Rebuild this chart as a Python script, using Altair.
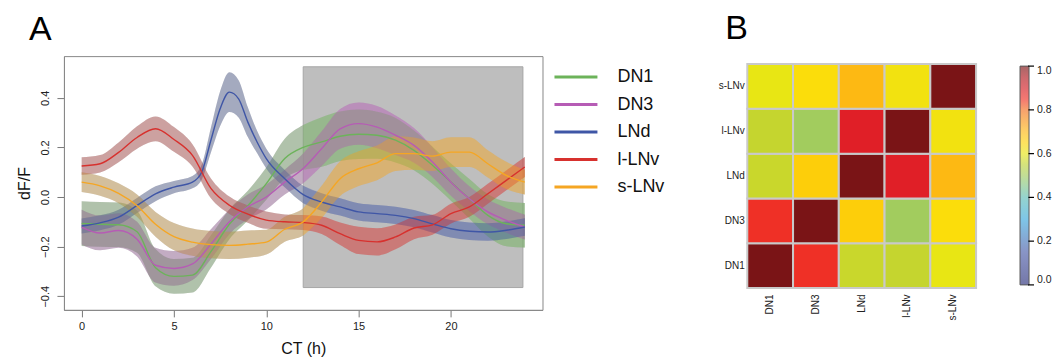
import altair as alt
import pandas as pd

FONT = "Liberation Sans"

# ---------------- Panel A data ----------------
series_names = ["DN1", "DN3", "LNd", "l-LNv", "s-LNv"]
legend_rank = [0, 1, 2, 3, 4]
line_colors = ["#6cb35a", "#b65cb5", "#3f56a6", "#d7312e", "#f5a623"]

ct_hours = list(range(25))
lnd_hours = [0, 1, 2, 3, 4, 5, 6, 6.5, 7, 7.5, 8, 8.5, 9, 9.5, 10,
             11, 12, 13, 14, 15, 16, 17, 18, 19, 20, 21, 22, 23, 24]

dn1_mean = [-0.107, -0.11, -0.112, -0.14, -0.285, -0.32, -0.315, -0.22, -0.11, -0.035,
            0.054, 0.155, 0.2, 0.222, 0.245, 0.253, 0.249, 0.229, 0.188, 0.128,
            0.06, -0.007, -0.074, -0.108, -0.114]
dn1_sd = [0.09, 0.09, 0.09, 0.085, 0.075, 0.07, 0.07, 0.065, 0.06, 0.06,
          0.065, 0.08, 0.09, 0.1, 0.1, 0.1, 0.095, 0.09, 0.08, 0.075,
          0.075, 0.08, 0.085, 0.09, 0.09]

dn3_mean = [-0.121, -0.145, -0.135, -0.17, -0.275, -0.288, -0.27, -0.19, -0.1, -0.04,
            0.0, 0.06, 0.115, 0.195, 0.275, 0.296, 0.282, 0.249, 0.208, 0.141,
            0.06, -0.007, -0.06, -0.094, -0.121]
dn3_sd = [0.07, 0.07, 0.07, 0.07, 0.07, 0.07, 0.065, 0.06, 0.05, 0.05,
          0.05, 0.05, 0.06, 0.07, 0.08, 0.085, 0.085, 0.08, 0.07, 0.06,
          0.055, 0.05, 0.05, 0.05, 0.05]

lnd_mean = [-0.117, -0.104, -0.081, -0.034, 0.013, 0.04, 0.06, 0.10, 0.229, 0.356,
            0.423, 0.396, 0.302, 0.222, 0.155, 0.074, 0.01, -0.02, -0.04, -0.06,
            -0.067, -0.074, -0.087, -0.108, -0.128, -0.138, -0.141, -0.134, -0.121]
lnd_sd = [0.03, 0.03, 0.03, 0.03, 0.03, 0.025, 0.025, 0.03, 0.05, 0.07,
          0.08, 0.075, 0.06, 0.045, 0.04, 0.035, 0.035, 0.035, 0.035, 0.035,
          0.035, 0.035, 0.035, 0.035, 0.035, 0.035, 0.035, 0.035, 0.035]

llnv_mean = [0.125, 0.134, 0.18, 0.24, 0.275, 0.232, 0.168, 0.035, -0.033, -0.069,
             -0.093, -0.1, -0.103, -0.114, -0.148, -0.175, -0.181, -0.161, -0.125, -0.112,
             -0.067, -0.04, 0.013, 0.067, 0.121]
llnv_sd = [0.035, 0.035, 0.04, 0.045, 0.05, 0.05, 0.045, 0.04, 0.035, 0.035,
           0.035, 0.03, 0.03, 0.035, 0.045, 0.055, 0.055, 0.05, 0.045, 0.04,
           0.04, 0.04, 0.04, 0.04, 0.04]

slnv_mean = [0.06, 0.045, 0.015, -0.035, -0.11, -0.16, -0.182, -0.192, -0.195, -0.19,
             -0.182, -0.13, -0.1, -0.02, 0.074, 0.114, 0.138, 0.175, 0.175, 0.165,
             0.181, 0.181, 0.134, 0.087, 0.06]
slnv_sd = [0.04, 0.04, 0.04, 0.045, 0.05, 0.055, 0.055, 0.055, 0.055, 0.055,
           0.05, 0.05, 0.055, 0.065, 0.07, 0.07, 0.07, 0.07, 0.065, 0.06,
           0.06, 0.06, 0.055, 0.055, 0.05]

# shaded interval (CT 12 - 24)
shade_x = [12.0]
shade_x2 = [23.9]
shade_y = [0.525]
shade_y2 = [-0.365]
shade_start = 12

x_ticks = [0, 5, 10, 15, 20]
y_ticks = [-0.4, -0.2, 0.0, 0.2, 0.4]
panel_labels_a = ["A"]
panel_labels_b = ["B"]

# ---------------- Panel B data ----------------
cell_names = ["DN1", "DN3", "LNd", "l-LNv", "s-LNv"]
corr = [
    [1.0, 0.85, 0.565, 0.56, 0.60],
    [0.85, 1.0, 0.66, 0.50, 0.63],
    [0.565, 0.66, 1.0, 0.88, 0.70],
    [0.56, 0.50, 0.88, 1.0, 0.615],
    [0.60, 0.63, 0.70, 0.615, 1.0],
]
cbar_ticks = [0.0, 0.2, 0.4, 0.6, 0.8, 1.0]
cmap_domain = [0.0, 0.15, 0.3, 0.4, 0.5, 0.56, 0.6, 0.63, 0.66, 0.7, 0.8, 0.85, 0.88, 0.95, 1.0]
cmap_range = ["#2b2f7a", "#4a5ca8", "#3aa8dc", "#5dbdb5", "#a2cc5e", "#c5d52f", "#e8e614",
              "#fbdd0b", "#fdce0a", "#fdb913", "#f37021", "#ef3026", "#e01f27", "#b01a20", "#7a1416"]

# ---------------- build tables ----------------
rows = []
for name, hrs, m, s in [("DN1", ct_hours, dn1_mean, dn1_sd),
                        ("DN3", ct_hours, dn3_mean, dn3_sd),
                        ("LNd", lnd_hours, lnd_mean, lnd_sd),
                        ("l-LNv", ct_hours, llnv_mean, llnv_sd),
                        ("s-LNv", ct_hours, slnv_mean, slnv_sd)]:
    for t, mv, sv in zip(hrs, m, s):
        rows.append({"series": name, "ct": t, "mean": mv, "lo": mv - sv, "hi": mv + sv})
df = pd.DataFrame(rows)

shade_df = pd.DataFrame({"x": shade_x, "x2": shade_x2, "y": shade_y, "y2": shade_y2})
legend_df = pd.DataFrame({"series": series_names, "rank": legend_rank})

heat_rows = []
for i, r in enumerate(cell_names):
    for j, c in enumerate(cell_names):
        heat_rows.append({"row": r, "col": c, "value": corr[i][j]})
heat_df = pd.DataFrame(heat_rows)
cbar_df = pd.DataFrame({"v": cbar_ticks})

# ---------------- Panel A ----------------
xdom = [-0.96, 24.96]
ydom = [-0.455, 0.568]
xscale = alt.Scale(domain=xdom, nice=False, zero=False)
yscale = alt.Scale(domain=ydom, nice=False, zero=False)
cscale = alt.Scale(domain=series_names, range=line_colors)

x_axis = alt.Axis(values=x_ticks, title="CT (h)", tickSize=7, labelPadding=4, labelFontSize=11,
                  titleFontSize=16, titleFontWeight="normal", titlePadding=9, grid=False,
                  domainColor="#888888", tickColor="#777777", labelColor="#222222",
                  titleColor="#111111", labelFont=FONT, titleFont=FONT)
y_axis = alt.Axis(values=y_ticks, title="dF/F", format=".1f", tickSize=7, labelPadding=6,
                  labelFontSize=11, labelAngle=-90, titleFontSize=16, titleFontWeight="normal",
                  titlePadding=7, grid=False, domainColor="#888888", tickColor="#777777",
                  labelColor="#222222", titleColor="#111111", labelFont=FONT, titleFont=FONT)

base = alt.Chart(df)

underlay = base.mark_area(interpolate="monotone", color="#808080", opacity=0.43).encode(
    x=alt.X("ct:Q", scale=xscale, axis=x_axis),
    y=alt.Y("lo:Q", scale=yscale, axis=y_axis),
    y2="hi:Q",
    detail="series:N",
)

shade = alt.Chart(shade_df).mark_rect(fill="#bebebe", stroke="#a6a6a6", strokeWidth=1).encode(
    x="x:Q", x2="x2:Q", y="y:Q", y2="y2:Q"
)

ribbons = base.mark_area(interpolate="monotone", opacity=0.26).encode(
    x="ct:Q",
    y="lo:Q",
    y2="hi:Q",
    color=alt.Color("series:N", scale=cscale, legend=None),
)

ribbons_in = base.transform_filter(alt.datum.ct >= shade_start).mark_area(
    interpolate="monotone", opacity=0.3
).encode(
    x="ct:Q",
    y="lo:Q",
    y2="hi:Q",
    color=alt.Color("series:N", scale=cscale, legend=None),
)

lines = base.mark_line(interpolate="monotone", strokeWidth=1.4).encode(
    x="ct:Q",
    y="mean:Q",
    color=alt.Color("series:N", scale=cscale, legend=None),
)

main = alt.layer(underlay, shade, ribbons, ribbons_in, lines)

leg_y = alt.Y("rank:Q", axis=None,
              scale=alt.Scale(domain=[0, 4], range=[21, 131], nice=False, zero=False))
leg_lines = alt.Chart(legend_df).mark_rule(strokeWidth=3).encode(
    x=alt.value(491), x2=alt.value(534), y=leg_y,
    color=alt.Color("series:N", scale=cscale, legend=None),
)
leg_text = alt.Chart(legend_df).mark_text(align="left", baseline="middle", fontSize=18,
                                          font=FONT, color="#111111").encode(
    x=alt.value(554), y=leg_y, text="series:N"
)
label_a = alt.Chart(pd.DataFrame({"label": panel_labels_a})).mark_text(
    align="left", baseline="alphabetic", fontSize=34, font=FONT, color="#000000"
).encode(x=alt.value(-35), y=alt.value(-16), text="label:N")

legend_layer = alt.layer(leg_lines, leg_text, label_a)

panel_a = alt.layer(main, legend_layer).resolve_scale(y="independent").properties(
    width=479, height=254,
    view=alt.ViewBackground(stroke="#888888", strokeWidth=1),
)

# ---------------- Panel B ----------------
heat = alt.Chart(heat_df).mark_rect(stroke="#c9c9c9", strokeWidth=2).encode(
    x=alt.X("col:N", sort=cell_names, title=None,
            scale=alt.Scale(paddingInner=0, paddingOuter=0),
            axis=alt.Axis(labelAngle=270, labelFontSize=10, labelPadding=6, ticks=False,
                          domain=False, labelColor="#222222", labelFont=FONT)),
    y=alt.Y("row:N", sort=list(reversed(cell_names)), title=None,
            scale=alt.Scale(paddingInner=0, paddingOuter=0, range=[8, 232]),
            axis=alt.Axis(labelFontSize=10, labelPadding=3, ticks=False, domain=False,
                          labelColor="#222222", labelFont=FONT)),
    color=alt.Color("value:Q",
                    scale=alt.Scale(domain=cmap_domain, range=cmap_range, interpolate="rgb"),
                    legend=alt.Legend(orient="none", legendX=273, legendY=10, direction="vertical",
                                      gradientLength=219, gradientThickness=9,
                                      gradientStrokeColor="#000000", gradientStrokeWidth=1,
                                      gradientOpacity=0.65, values=cbar_ticks, format=".1f",
                                      labelFontSize=10.5, labelOffset=8, labelFont=FONT,
                                      labelColor="#222222", title=None, padding=0)),
)
cbar_ticks_layer = alt.Chart(cbar_df).mark_rule(color="#000000", strokeWidth=1.2).encode(
    x=alt.value(281), x2=alt.value(287),
    y=alt.Y("v:Q", axis=None, scale=alt.Scale(domain=[0, 1], range=[229, 10])),
)
label_b = alt.Chart(pd.DataFrame({"label": panel_labels_b})).mark_text(
    align="left", baseline="alphabetic", fontSize=34, font=FONT, color="#000000"
).encode(x=alt.value(-22), y=alt.value(-17), text="label:N")

panel_b = alt.layer(heat, cbar_ticks_layer, label_b).resolve_scale(y="independent").properties(
    width=229, height=232
)

chart = alt.hconcat(panel_a, panel_b, spacing=52).resolve_scale(color="independent").properties(
    padding={"left": 8, "top": 4, "right": 0, "bottom": 0}
).configure_view(stroke=None)

chart.save("out.html", embed_options={"renderer": "svg", "actions": False})
